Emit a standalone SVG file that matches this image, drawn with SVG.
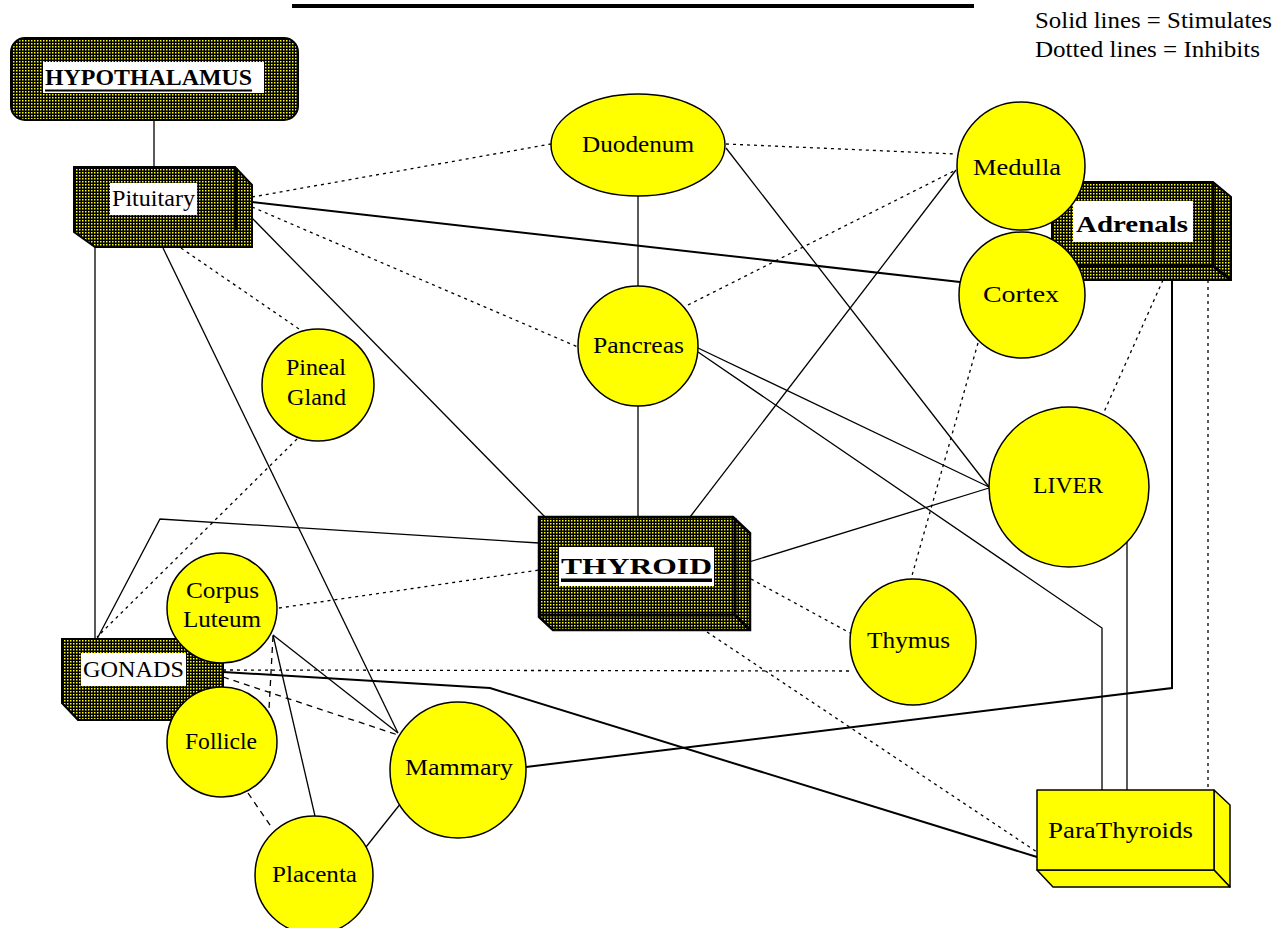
<svg xmlns="http://www.w3.org/2000/svg" width="1283" height="928" viewBox="0 0 1283 928">
<defs>
<pattern id="dots" width="3" height="3" patternUnits="userSpaceOnUse"><rect width="3" height="3" fill="#000"/><rect x="1" y="1" width="1.5" height="1.5" fill="#ffff00"/></pattern>
</defs>
<style>
.ell{fill:#ffff00;stroke:#000;stroke-width:1.5}
.dark{fill:url(#dots);stroke:#000;stroke-width:2}
.yb{fill:#ffff00;stroke:#000;stroke-width:1.5;stroke-linejoin:round}
.lbl{fill:#fff;stroke:none}
.edge{stroke:#000;fill:none;stroke-width:3}
.t{font-family:"Liberation Serif","Times New Roman",serif;fill:#000;font-size:24px}
.b{font-weight:bold}
.s{stroke:#000;stroke-width:1.3;fill:none}
.th{stroke-width:2}
.d{stroke:#000;stroke-width:1.3;fill:none;stroke-dasharray:3 4}
.dl{stroke:#000;stroke-width:1.3;fill:none;stroke-dasharray:6 5}
</style>
<rect x="292" y="4" width="682" height="4" fill="#000"/>
<g id="legend">
<text class="t" x="1035" y="28" font-size="22" textLength="237" lengthAdjust="spacingAndGlyphs">Solid lines = Stimulates</text>
<text class="t" x="1035" y="57" font-size="22" textLength="225" lengthAdjust="spacingAndGlyphs">Dotted lines = Inhibits</text>
</g>
<g id="connectors">
<path class="s" d="M154,120 V167"/>
<path class="s" d="M95,247 V639"/>
<path class="s th" d="M252,202 L960,282"/>
<path class="s" d="M252,218 L545,517"/>
<path class="s" d="M163,248 L398,733"/>
<path class="s" d="M638,195 V287"/>
<path class="s" d="M638,406 V517"/>
<path class="s" d="M726,148 L989,487"/>
<path class="s" d="M698,348 L989,487"/>
<path class="s" d="M698,352 L1102,628 V790"/>
<path class="s" d="M690,517 L956,170"/>
<path class="s" d="M749,562 L989,488"/>
<path class="s" d="M539,543 L160,519 L97,639"/>
<path class="s th" d="M223,672 L490,688 L1037,857"/>
<path class="s th" d="M526,767 L1172,688 V265"/>
<path class="s" d="M1127,541 V790"/>
<path class="s" d="M273,635 L398,733"/>
<path class="s" d="M273,635 L315,816"/>
<path class="s" d="M366,847 L401,803"/>
<path class="d" d="M252,197 L551,144"/>
<path class="d" d="M252,207 L578,347"/>
<path class="d" d="M181,248 L299,329"/>
<path class="d" d="M297,439 L97,637"/>
<path class="d" d="M726,144 L956,154"/>
<path class="d" d="M688,305 L956,170"/>
<path class="d" d="M978,343 L911,579"/>
<path class="d" d="M1163,280 L1104,412"/>
<path class="d" d="M1208,280 V790"/>
<path class="d" d="M751,579 L850,633"/>
<path class="d" d="M707,632 L1037,852"/>
<path class="d" d="M279,608 L539,570"/>
<path class="d" d="M223,670 L852,671"/>
<path class="dl" d="M223,677 L398,735"/>
<path class="dl" d="M273,636 L269,709"/>
<path class="dl" d="M248,793 L272,828"/>
</g>
<g id="hypothalamus">
<rect class="dark" x="11" y="38" width="287" height="82" rx="14"/>
<rect class="lbl" x="43" y="62" width="221" height="31"/>
<text class="t b" x="45" y="85" textLength="207" lengthAdjust="spacingAndGlyphs">HYPOTHALAMUS</text>
<rect x="45" y="89.5" width="207" height="2" fill="#000"/>
</g>
<g id="pituitary">
<path class="dark" d="M74,167 L235,167 L252,185 L252,247 L95,247 L74,232 Z"/>
<path class="edge" d="M236,168 V230"/>
<rect class="lbl" x="110" y="183" width="87" height="32"/>
<text class="t" x="112" y="206" textLength="83" lengthAdjust="spacingAndGlyphs">Pituitary</text>
</g>
<g id="adrenals">
<path class="dark" d="M1052,182 L1213,182 L1231,197 L1231,280 L1052,280 Z"/>
<path class="edge" d="M1213,183 V266 M1060,266 H1213 L1230,279"/>
<rect class="lbl" x="1073" y="201" width="120" height="41"/>
<text class="t b" x="1076" y="232" font-size="29" textLength="112" lengthAdjust="spacingAndGlyphs">Adrenals</text>
</g>
<g id="thyroid">
<path class="dark" style="stroke-width:2.5" d="M539,517 L733,517 L750,533 L750,630 L553,630 L539,617 Z"/>
<path class="edge" d="M735,518 V615 M540,615 H735 L749,629"/>
<rect class="lbl" x="559" y="547" width="155" height="39"/>
<text class="t b" x="561" y="574" font-size="31" textLength="151" lengthAdjust="spacingAndGlyphs">THYROID</text>
<rect x="561" y="578.5" width="151" height="3.5" fill="#000"/>
</g>
<g id="gonads">
<path class="dark" d="M62,639 L223,639 L223,720 L78,720 L62,703 Z"/>
<rect class="lbl" x="81" y="653" width="105" height="33"/>
<text class="t" x="83" y="677" font-size="25" textLength="101" lengthAdjust="spacingAndGlyphs">GONADS</text>
</g>
<g id="duodenum">
<ellipse class="ell" cx="638" cy="145" rx="87" ry="51"/>
<text class="t" x="582" y="152" textLength="112" lengthAdjust="spacingAndGlyphs">Duodenum</text>
</g>
<g id="pancreas">
<ellipse class="ell" cx="638" cy="346" rx="60" ry="60"/>
<text class="t" x="593" y="353" textLength="91" lengthAdjust="spacingAndGlyphs">Pancreas</text>
</g>
<g id="medulla">
<ellipse class="ell" cx="1021" cy="166" rx="64" ry="64"/>
<text class="t" x="973" y="175" textLength="88" lengthAdjust="spacingAndGlyphs">Medulla</text>
</g>
<g id="cortex">
<ellipse class="ell" cx="1022" cy="295" rx="63" ry="63"/>
<text class="t" x="983" y="302" textLength="76" lengthAdjust="spacingAndGlyphs">Cortex</text>
</g>
<g id="liver">
<ellipse class="ell" cx="1069" cy="487" rx="80" ry="80"/>
<text class="t" x="1033" y="493" textLength="70" lengthAdjust="spacingAndGlyphs">LIVER</text>
</g>
<g id="thymus">
<ellipse class="ell" cx="913" cy="642" rx="63" ry="63"/>
<text class="t" x="867" y="648" textLength="83" lengthAdjust="spacingAndGlyphs">Thymus</text>
</g>
<g id="pineal">
<ellipse class="ell" cx="318" cy="385" rx="56" ry="56"/>
<text class="t" x="286" y="375" textLength="60" lengthAdjust="spacingAndGlyphs">Pineal</text>
<text class="t" x="287" y="405" textLength="59" lengthAdjust="spacingAndGlyphs">Gland</text>
</g>
<g id="corpus-luteum">
<ellipse class="ell" cx="222" cy="608" rx="55" ry="55"/>
<text class="t" x="186" y="598" textLength="73" lengthAdjust="spacingAndGlyphs">Corpus</text>
<text class="t" x="183" y="627" textLength="78" lengthAdjust="spacingAndGlyphs">Luteum</text>
</g>
<g id="follicle">
<ellipse class="ell" cx="222" cy="742" rx="55" ry="55"/>
<text class="t" x="185" y="749" textLength="72" lengthAdjust="spacingAndGlyphs">Follicle</text>
</g>
<g id="placenta">
<ellipse class="ell" cx="314" cy="875" rx="59" ry="59"/>
<text class="t" x="272" y="882" textLength="85" lengthAdjust="spacingAndGlyphs">Placenta</text>
</g>
<g id="mammary">
<ellipse class="ell" cx="458" cy="770" rx="68" ry="68"/>
<text class="t" x="405" y="775" textLength="108" lengthAdjust="spacingAndGlyphs">Mammary</text>
</g>
<g id="parathyroids">
<path class="yb" d="M1214,790 L1230,805 L1230,887 L1214,870 Z"/>
<path class="yb" d="M1037,870 L1214,870 L1230,887 L1053,887 Z"/>
<rect class="yb" x="1037" y="790" width="177" height="80"/>
<text class="t" x="1048" y="838" textLength="145" lengthAdjust="spacingAndGlyphs">ParaThyroids</text>
</g>
</svg>
